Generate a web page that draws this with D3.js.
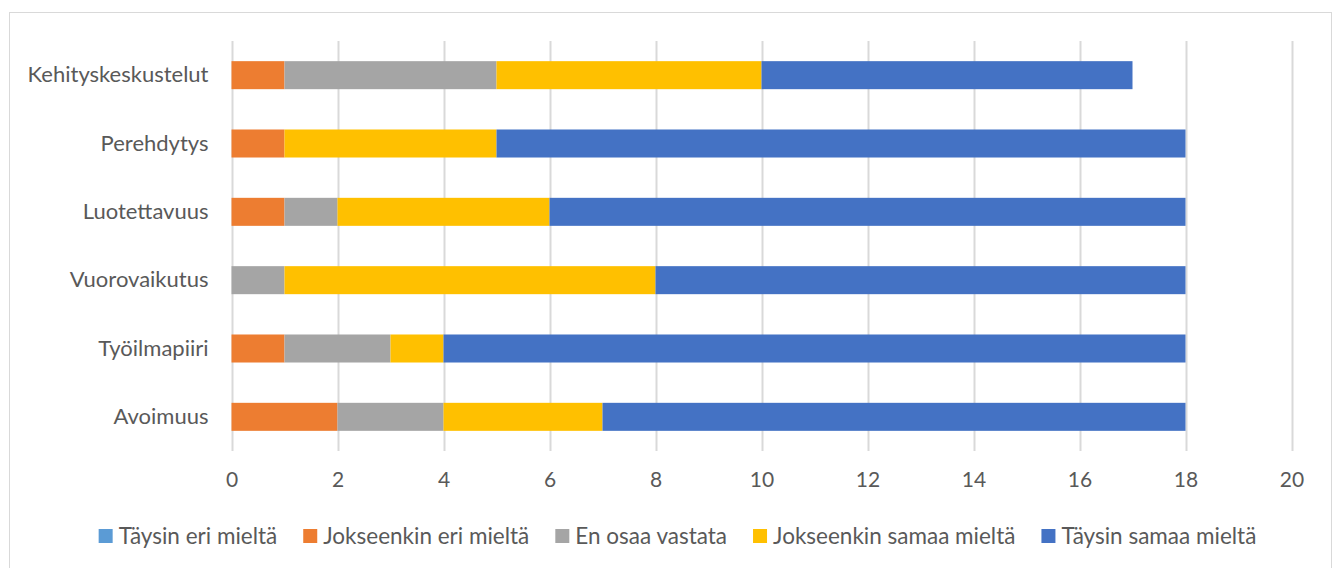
<!DOCTYPE html>
<html>
<head>
<meta charset="utf-8">
<script src="https://cdn.jsdelivr.net/npm/d3@7.9.0/dist/d3.min.js"></script>
<style>
  html, body { margin: 0; padding: 0; background: #fff; }
  svg { display: block; font-family: Lato, "Open Sans", sans-serif; }
</style>
</head>
<body>
<svg id="chart" width="1338" height="568"></svg>
<script>
// Data (top to bottom as in the chart)
const categories = ['Kehityskeskustelut', 'Perehdytys', 'Luotettavuus', 'Vuorovaikutus', 'Työilmapiiri', 'Avoimuus'];
const seriesNames = ['Täysin eri mieltä', 'Jokseenkin eri mieltä', 'En osaa vastata', 'Jokseenkin samaa mieltä', 'Täysin samaa mieltä'];
const taysinEri     = [0, 0, 0, 0, 0, 0];
const jokseenkinEri = [1, 1, 1, 0, 1, 2];
const enOsaa        = [4, 0, 1, 1, 2, 2];
const jokseenkinSam = [5, 4, 4, 7, 1, 3];
const taysinSamaa   = [7, 13, 12, 10, 14, 11];
const xTicks = [0, 2, 4, 6, 8, 10, 12, 14, 16, 18, 20];
const seriesColors = ['#5B9BD5', '#ED7D31', '#A5A5A5', '#FFC000', '#4472C4'];

const rows = categories.map((c, i) => ({
  cat: c,
  [seriesNames[0]]: taysinEri[i],
  [seriesNames[1]]: jokseenkinEri[i],
  [seriesNames[2]]: enOsaa[i],
  [seriesNames[3]]: jokseenkinSam[i],
  [seriesNames[4]]: taysinSamaa[i]
}));

const svg = d3.select('#chart');
const m = { left: 231.5, right: 1291.5, top: 41, bottom: 451 };
const textCol = '#595959';

// chart border
svg.append('rect')
  .attr('x', 9.5).attr('y', 12.5)
  .attr('width', 1322).attr('height', 560)
  .attr('fill', '#fff').attr('stroke', '#D9D9D9').attr('stroke-width', 1);

const x = d3.scaleLinear().domain([0, 20]).range([m.left, m.right]);
const y = d3.scaleBand().domain(categories).range([m.top, m.bottom]).paddingInner(0.59).paddingOuter(0.295);

// gridlines
svg.append('g').selectAll('line').data(xTicks).join('line')
  .attr('x1', d => Math.round(x(d)) + 0.5).attr('x2', d => Math.round(x(d)) + 0.5)
  .attr('y1', m.top).attr('y2', m.bottom)
  .attr('stroke', '#D9D9D9').attr('stroke-width', 2);

// stacked bars
const layers = d3.stack().keys(seriesNames)(rows);
svg.append('g').selectAll('g').data(layers).join('g')
  .attr('fill', (d, i) => seriesColors[i])
  .selectAll('rect').data(d => d).join('rect')
  .attr('x', d => x(d[0]))
  .attr('width', d => x(d[1]) - x(d[0]))
  .attr('y', d => y(d.data.cat))
  .attr('height', y.bandwidth());

// x axis labels
const xAxis = svg.append('g')
  .attr('transform', `translate(0,${m.bottom})`)
  .call(d3.axisBottom(x).tickValues(xTicks).tickSize(0).tickPadding(21));
xAxis.select('.domain').remove();
xAxis.selectAll('text').attr('fill', textCol).style('font-size', '21px').style('font-family', 'Lato, sans-serif');

// y axis labels
const yAxis = svg.append('g')
  .attr('transform', `translate(${m.left},0)`)
  .call(d3.axisLeft(y).tickSize(0).tickPadding(23));
yAxis.select('.domain').remove();
yAxis.selectAll('text').attr('fill', textCol).style('font-size', '22px').style('font-family', 'Lato, sans-serif');

// legend
const legend = svg.append('g').attr('transform', 'translate(0,536)');
const items = legend.selectAll('g').data(seriesNames).join('g');
items.append('rect')
  .attr('width', 14).attr('height', 14).attr('y', -7)
  .attr('fill', (d, i) => seriesColors[i]);
items.append('text')
  .attr('x', 20).attr('dy', '0.35em')
  .attr('fill', textCol).style('font-size', '22.5px')
  .text(d => d);
const widths = [];
items.each(function() { widths.push(this.getBBox().width); });
const gap = 26;
const total = d3.sum(widths) + gap * (widths.length - 1);
let cx = 677.5 - total / 2;
items.attr('transform', (d, i) => {
  const t = `translate(${cx},0)`;
  cx += widths[i] + gap;
  return t;
});
</script>
</body>
</html>
